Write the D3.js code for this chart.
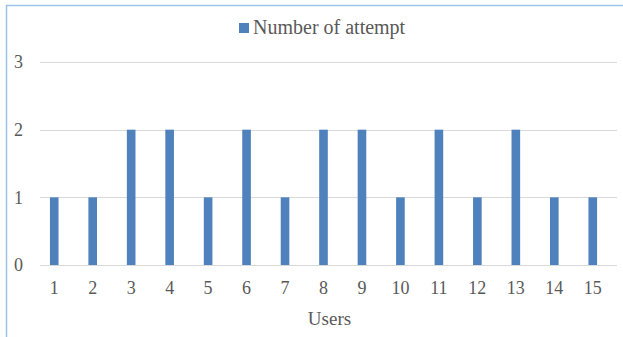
<!DOCTYPE html>
<html>
<head>
<meta charset="utf-8">
<script src="https://cdn.jsdelivr.net/npm/d3@7/dist/d3.min.js"></script>
<style>
  html, body { margin: 0; padding: 0; background: #fff; }
  svg { display: block; }
  text { font-family: "Liberation Serif", "Times New Roman", serif; fill: #595959; }
</style>
</head>
<body>
<svg id="chart" width="623" height="337"></svg>
<script>
// Attempts per user
const users = ["1","2","3","4","5","6","7","8","9","10","11","12","13","14","15"];
const attempts = [1, 1, 2, 2, 1, 2, 1, 2, 2, 1, 2, 1, 2, 1, 1];
const yTicks = [0, 1, 2, 3];
const seriesName = "Number of attempt";
const xTitle = "Users";

const svg = d3.select("#chart");
const W = 623, H = 337;
const barColor = "#4F81BD";

// Chart frame (left and top edges visible)
svg.append("line").attr("x1", 6.5).attr("x2", 6.5).attr("y1", 5).attr("y2", H)
  .attr("stroke", "#9DC3E6").attr("stroke-width", 1.5);
svg.append("line").attr("x1", 6).attr("x2", W).attr("y1", 5.5).attr("y2", 5.5)
  .attr("stroke", "#9DC3E6").attr("stroke-width", 1.5);

const x = d3.scaleBand().domain(users).range([35, 612])
  .paddingInner(0.776).paddingOuter(0.388);
const y = d3.scaleLinear().domain([0, 3]).range([265, 62]);

const gridLeft = 40, gridRight = 617;

// Horizontal gridlines
svg.append("g").selectAll("line").data(yTicks).join("line")
  .attr("x1", gridLeft).attr("x2", gridRight)
  .attr("y1", d => Math.round(y(d)) + 0.5).attr("y2", d => Math.round(y(d)) + 0.5)
  .attr("stroke", "#D9D9D9").attr("stroke-width", 1);

// Y tick labels
svg.append("g").selectAll("text").data(yTicks).join("text")
  .attr("x", 23).attr("y", d => y(d))
  .attr("dy", "0.35em").attr("text-anchor", "end")
  .attr("font-size", 18).text(d => d);

// Bars
svg.append("g").selectAll("rect").data(attempts).join("rect")
  .attr("x", (d, i) => x(users[i]))
  .attr("width", x.bandwidth())
  .attr("y", d => y(d))
  .attr("height", d => y(0) - y(d))
  .attr("fill", barColor);

// X tick labels
svg.append("g").selectAll("text").data(users).join("text")
  .attr("x", d => x(d) + x.bandwidth() / 2)
  .attr("y", 294)
  .attr("text-anchor", "middle")
  .attr("font-size", 18).text(d => d);

// Axis title
svg.append("text").attr("x", (gridLeft + gridRight) / 2 + 1).attr("y", 325)
  .attr("text-anchor", "middle").attr("font-size", 19).text(xTitle);

// Legend
const legend = svg.append("g");
legend.append("rect").attr("x", 239).attr("y", 23).attr("width", 10).attr("height", 10)
  .attr("fill", barColor);
legend.append("text").attr("x", 253).attr("y", 34)
  .attr("font-size", 20).text(seriesName);
</script>
</body>
</html>
